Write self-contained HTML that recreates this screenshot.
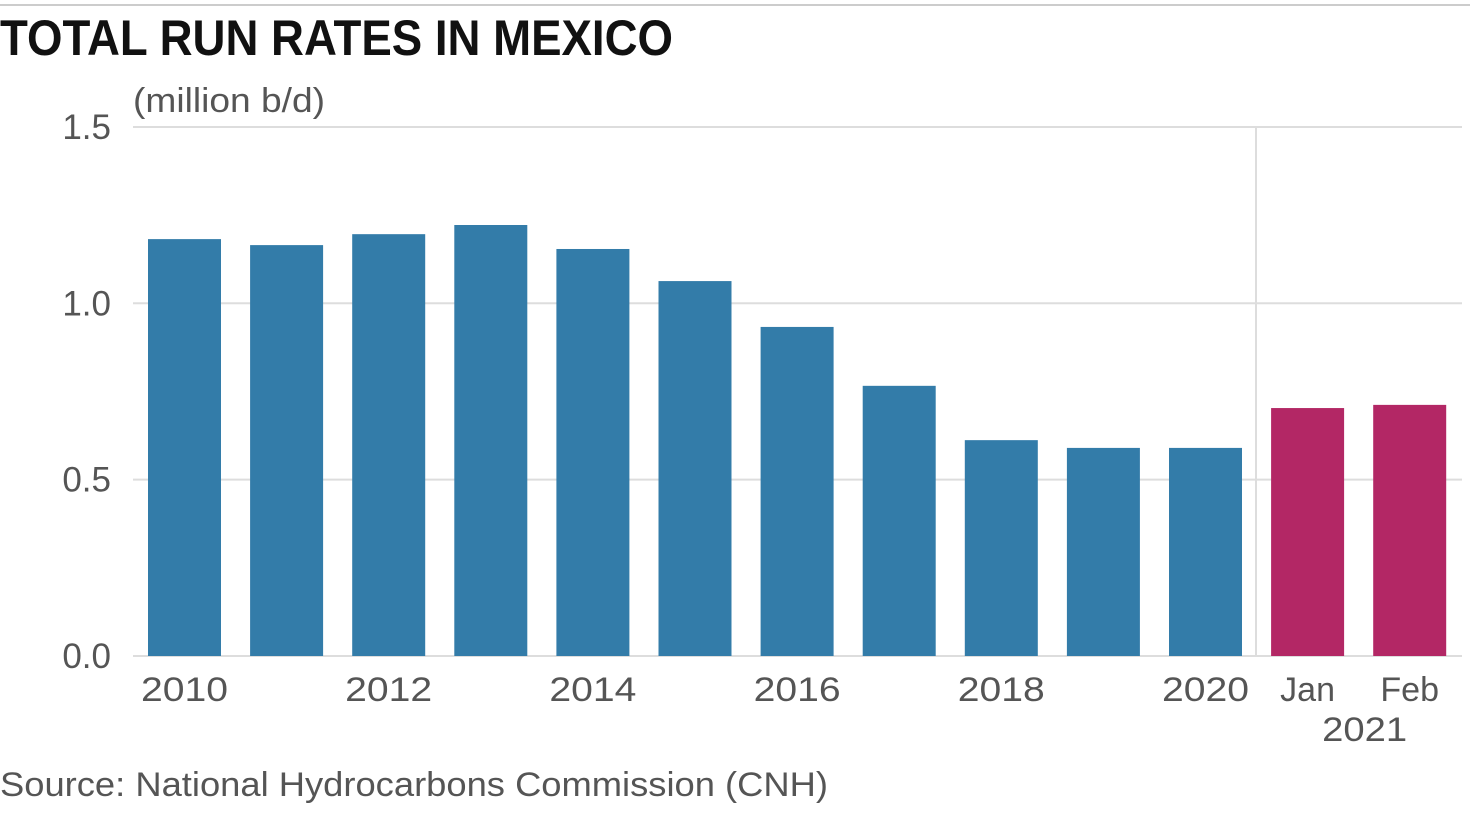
<!DOCTYPE html>
<html><head><meta charset="utf-8"><style>
body{margin:0;width:1470px;height:830px;background:#fff;overflow:hidden;font-family:"Liberation Sans",sans-serif}
svg text{font-family:"Liberation Sans",sans-serif}
</style></head><body>
<svg id="c" width="1470" height="830">
<line x1="0" y1="5" x2="1470" y2="5" stroke="#ccc" stroke-width="2"/>
<text x="0" y="55" font-size="50" font-weight="bold" fill="#111" textLength="673" lengthAdjust="spacingAndGlyphs">TOTAL RUN RATES IN MEXICO</text>
<text x="133" y="112" font-size="34" fill="#555" textLength="192" lengthAdjust="spacingAndGlyphs">(million b/d)</text>
<text x="0" y="796" font-size="34" fill="#555" textLength="828" lengthAdjust="spacingAndGlyphs">Source: National Hydrocarbons Commission (CNH)</text>
<g id="g"></g>
</svg>
<script>
const categories=["2010","2011","2012","2013","2014","2015","2016","2017","2018","2019","2020","Jan","Feb"];
const values=[1.182,1.165,1.196,1.222,1.154,1.063,0.933,0.766,0.612,0.590,0.590,0.703,0.712];
const xLabels=["2010","","2012","","2014","","2016","","2018","","2020","Jan","Feb"];
const yTicks=[0,0.5,1.0,1.5];
const yTickLabels=["0.0","0.5","1.0","1.5"];
const NS="http://www.w3.org/2000/svg";
const g=document.getElementById('g');
const y=v=>656-v*352.7;
const x=i=>148+i*102.1;
function mk(t,a){const e=document.createElementNS(NS,t);for(const k in a)e.setAttribute(k,a[k]);g.appendChild(e);return e;}
yTicks.forEach((v,i)=>{
 const l=mk('line',{x1:133,x2:1462,y1:y(v),y2:y(v),stroke:'#ddd','stroke-width':2});
 
 
 const t=mk('text',{x:111,y:y(v)+12,'font-size':35,fill:'#555','text-anchor':'end'});
 t.textContent=yTickLabels[i];
 
 
});
const d=mk('line',{x1:1256,x2:1256,y1:127,y2:656,stroke:'#ddd','stroke-width':2});


values.forEach((v,i)=>{
 const r=mk('rect',{x:x(i),y:y(v),width:73,height:656-y(v),fill:i>=11?'#b32765':'#337ca9'});
 
 
 if(xLabels[i]){
  const a={x:x(i)+36.5,y:701,'font-size':34,fill:'#555','text-anchor':'middle'};
  if(xLabels[i].length===4){a.textLength=87;a.lengthAdjust='spacingAndGlyphs';}
  const t=mk('text',a);
  t.textContent=xLabels[i];
  
  
 }
});
const t=mk('text',{x:(x(11)+x(12)+73)/2+6,y:741,'font-size':34,fill:'#555','text-anchor':'middle',textLength:85,lengthAdjust:'spacingAndGlyphs'});
t.textContent="2021";


</script>
</body></html>
